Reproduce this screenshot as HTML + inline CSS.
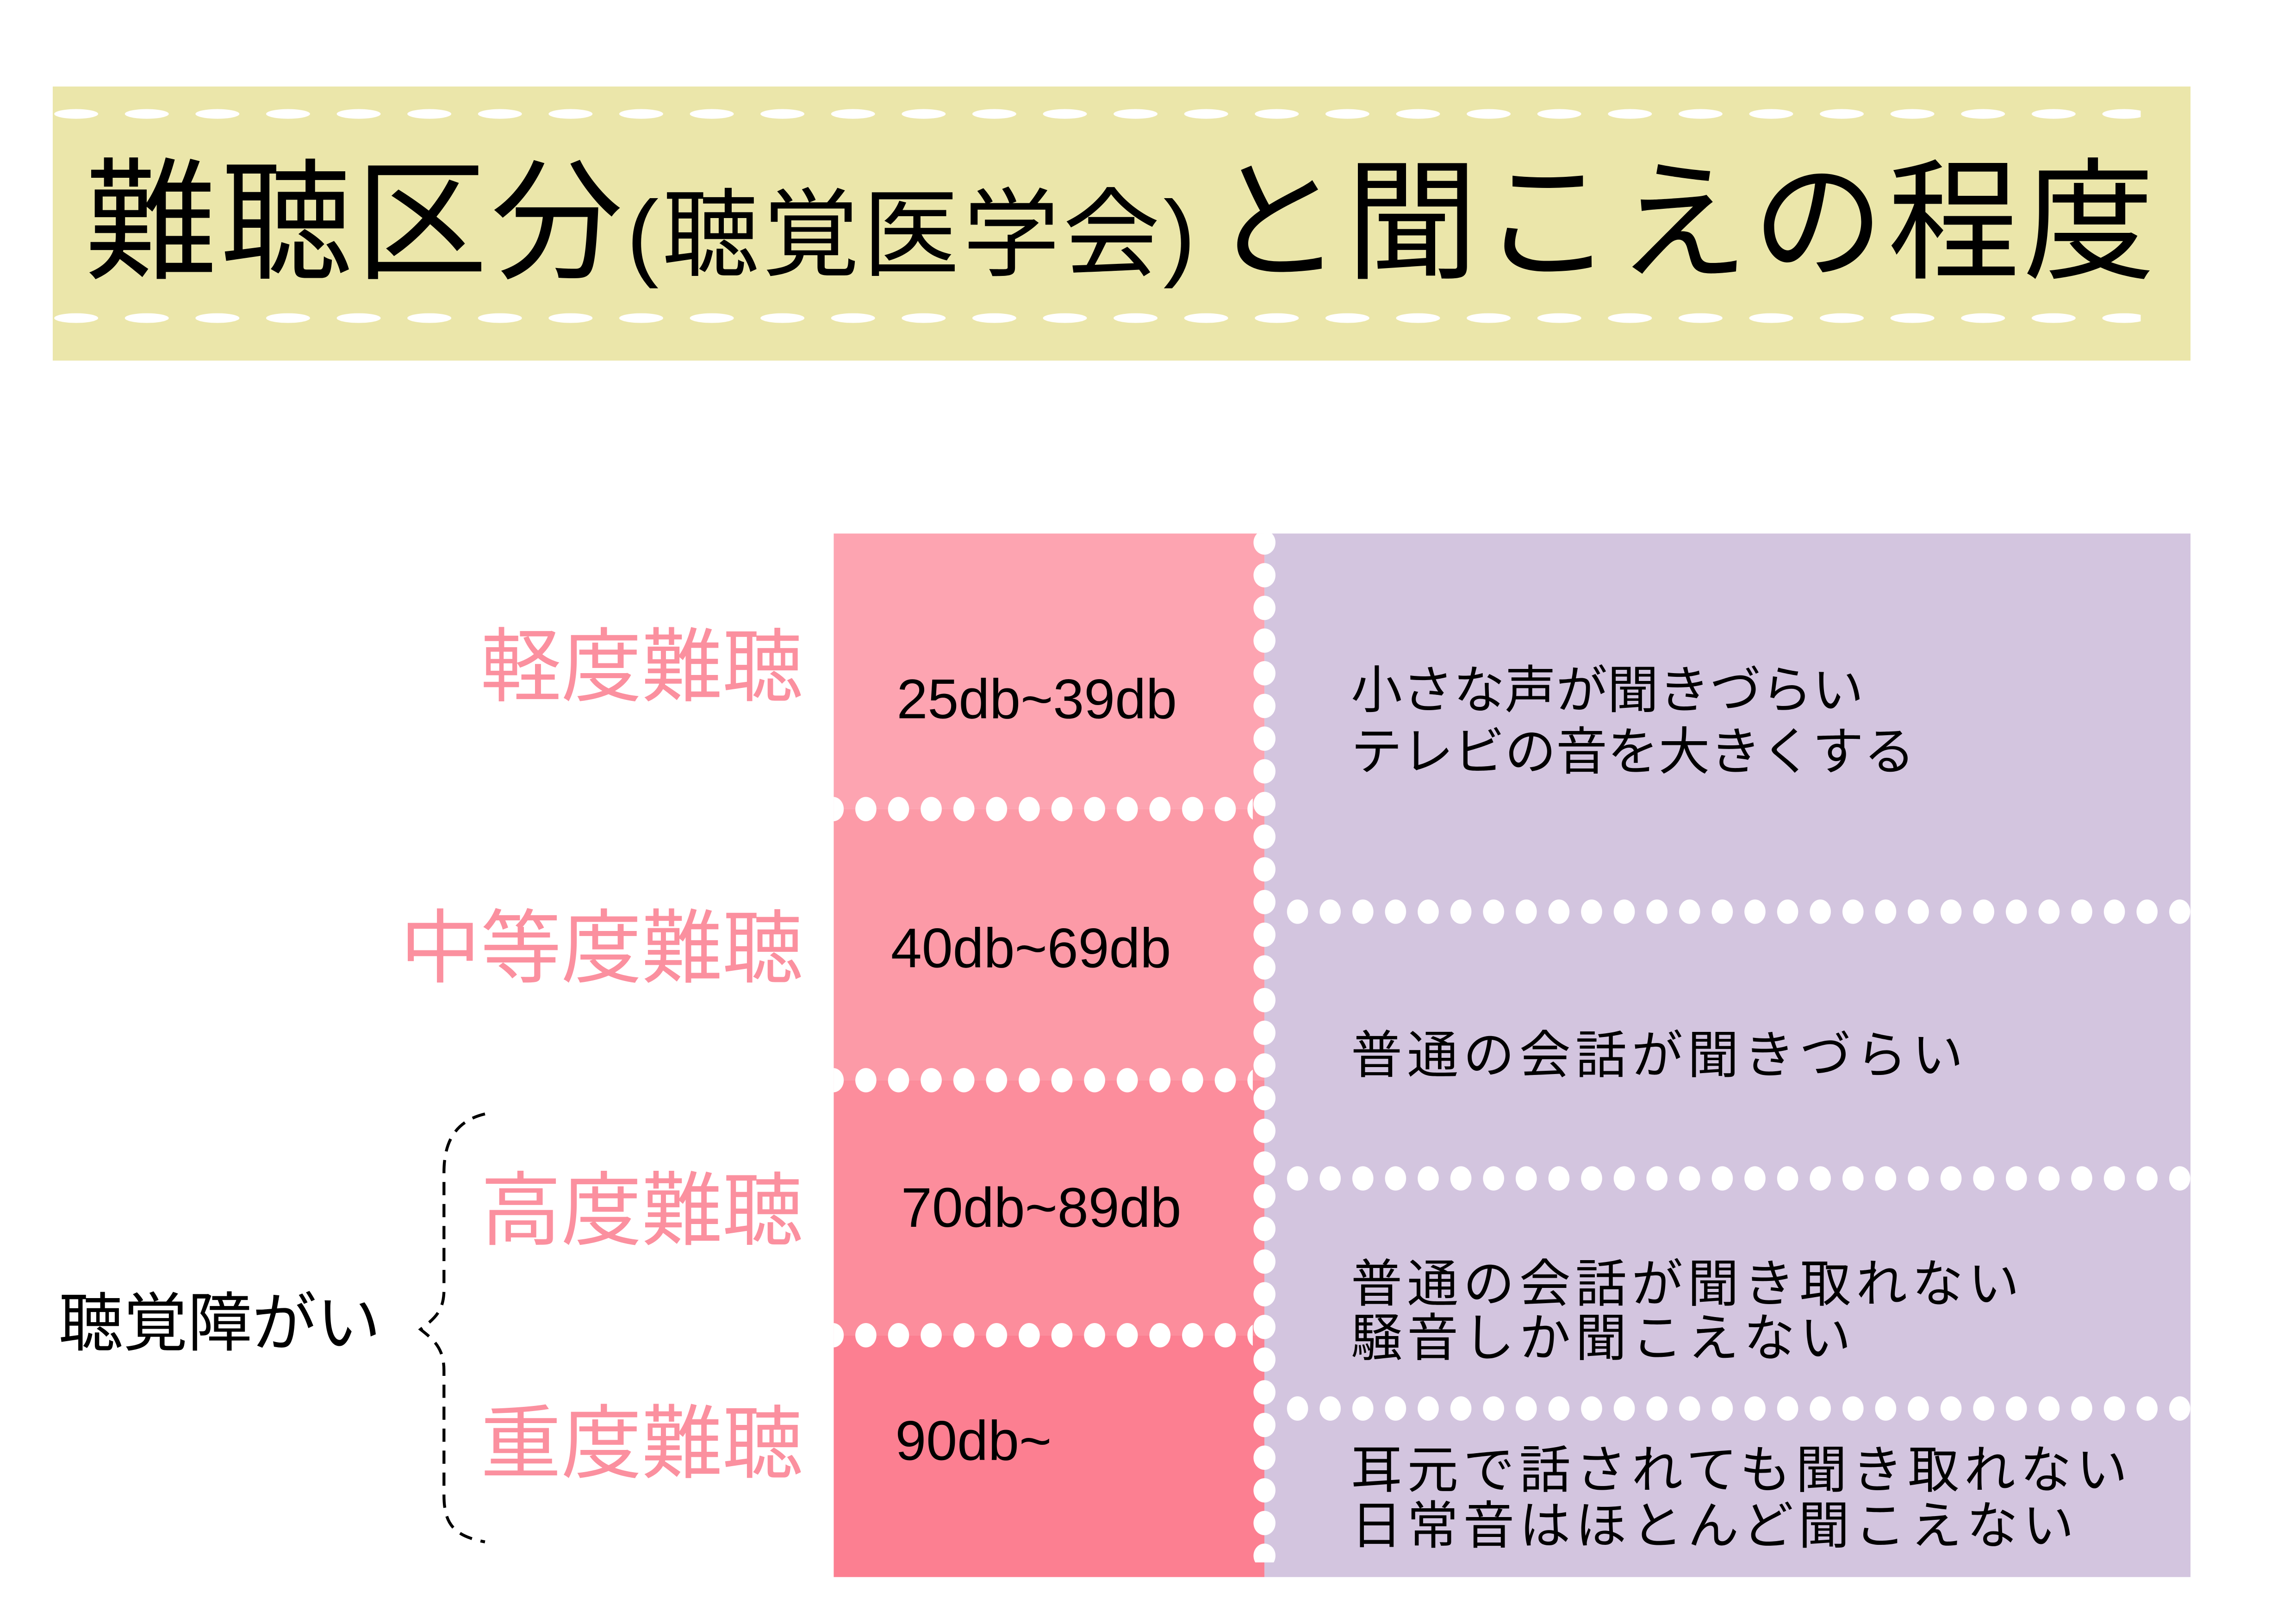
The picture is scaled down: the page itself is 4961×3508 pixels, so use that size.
<!DOCTYPE html>
<html><head><meta charset="utf-8"><style>html,body{margin:0;padding:0;background:#fff}svg{display:block}</style></head>
<body>
<svg xmlns="http://www.w3.org/2000/svg" width="4961" height="3508" viewBox="0 0 1567 1108" style="font-family:'Liberation Sans','Noto Sans CJK JP',sans-serif">
<defs>
<pattern id="tdots" patternUnits="userSpaceOnUse" x="28" y="0" width="48.2" height="1108"><ellipse cx="24" cy="77.7" rx="15" ry="3.3" fill="#fff"/><ellipse cx="24" cy="217" rx="15" ry="3.3" fill="#fff"/></pattern>
<pattern id="hdots" patternUnits="userSpaceOnUse" x="0" y="0" width="22.3" height="1108"><ellipse cx="11.15" cy="552" rx="7.2" ry="8.3" fill="#fff"/><ellipse cx="11.15" cy="737" rx="7.2" ry="8.3" fill="#fff"/><ellipse cx="11.15" cy="911" rx="7.2" ry="8.3" fill="#fff"/></pattern>
<pattern id="ldots" patternUnits="userSpaceOnUse" x="874.4" y="0" width="22.3" height="1108"><ellipse cx="11.15" cy="622" rx="7.2" ry="8.3" fill="#fff"/><ellipse cx="11.15" cy="804" rx="7.2" ry="8.3" fill="#fff"/><ellipse cx="11.15" cy="961" rx="7.2" ry="8.3" fill="#fff"/></pattern>
<pattern id="vdots" patternUnits="userSpaceOnUse" x="0" y="359" width="1567" height="22.3"><ellipse cx="863" cy="11.15" rx="7.5" ry="8.3" fill="#fff"/></pattern>
</defs>
<rect x="36" y="59" width="1459" height="187" fill="#ebe6aa"/>
<rect x="36" y="70" width="1425" height="155" fill="url(#tdots)"/>
<text x="58" y="183" font-size="90" fill="#000" letter-spacing="2.4">難聴区分<tspan font-size="66">(聴覚医学会)</tspan><tspan dx="8">と聞こえの程度</tspan></text>

<rect x="569" y="364" width="294" height="188" fill="#fda4b1"/>
<rect x="569" y="552" width="294" height="185" fill="#fc9aa7"/>
<rect x="569" y="737" width="294" height="174" fill="#fc8d9c"/>
<rect x="569" y="911" width="294" height="165" fill="#fc7f91"/>
<rect x="863" y="364" width="632" height="712" fill="#d3c5df"/>
<rect x="569" y="540" width="286" height="380" fill="url(#hdots)"/>
<rect x="874" y="610" width="621" height="360" fill="url(#ldots)"/>
<rect x="850" y="364" width="30" height="702" fill="url(#vdots)"/>

<g font-size="38" fill="#000">
<text x="612" y="490">25db~39db</text>
<text x="608" y="660">40db~69db</text>
<text x="615" y="837">70db~89db</text>
<text x="611" y="996">90db~</text>
</g>
<g font-size="35" fill="#000">
<text x="922" y="483">小さな声が聞きづらい</text>
<text x="922" y="525">テレビの音を大きくする</text>
<g letter-spacing="3.3">
<text x="922" y="732">普通の会話が聞きづらい</text>
<text x="922" y="888">普通の会話が聞き取れない</text>
<text x="922" y="925">騒音しか聞こえない</text>
<text x="922" y="1015">耳元で話されても聞き取れない</text>
<text x="922" y="1053">日常音はほとんど聞こえない</text>
</g>
</g>
<g font-size="55" fill="#fb909f" text-anchor="end">
<text x="548" y="474">軽度難聴</text>
<text x="548" y="666">中等度難聴</text>
<text x="548" y="845">高度難聴</text>
<text x="548" y="1004">重度難聴</text>
</g>
<text x="40" y="918" font-size="44" fill="#000">聴覚障がい</text>
<path d="M331,760 C310,765 303,780 303,800 L303,880 C303,895 296,900 287,907 C296,914 303,920 303,935 L303,1020 C303,1040 310,1048 331,1052" fill="none" stroke="#000" stroke-width="2" stroke-dasharray="9,6"/>
</svg>
</body></html>
